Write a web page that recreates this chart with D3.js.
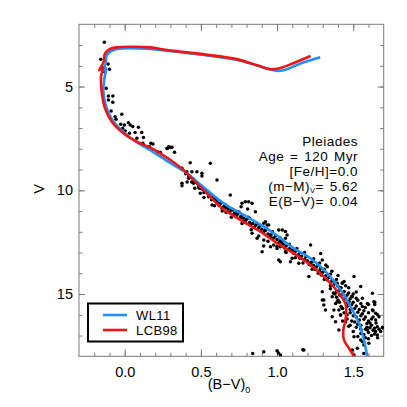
<!DOCTYPE html>
<html>
<head>
<meta charset="utf-8">
<script src="https://cdn.jsdelivr.net/npm/d3@7"></script>
<style>
  body { margin: 0; background: #fff; }
  svg { display: block; font-family: "Liberation Sans", Arial, sans-serif; }
  .axis path.domain { display: none; }
  .axis line { stroke: #7a7a7a; }
  .axis text { fill: #000; font-size: 14.5px; font-family: "Liberation Sans", Arial, sans-serif; }
</style>
</head>
<body>
<div id="chart"></div>
<script>
// Pleiades colour-magnitude diagram with two isochrones

// WL11 isochrone (blue)
const wlBV = [1.283, 1.159, 1.049, 0.994, 0.895, 0.741, 0.522, 0.277, 0.167, -0.009, -0.074, -0.118, -0.125, -0.146, -0.122, -0.133, -0.14, -0.118, -0.074, 0.014, 0.101, 0.18, 0.25, 0.32, 0.408, 0.47, 0.54, 0.65, 0.781, 0.913, 1.011, 1.11, 1.22, 1.33, 1.417, 1.483, 1.538, 1.57, 1.593];
const wlV  = [3.59, 3.88, 4.2, 4.24, 4.04, 3.72, 3.48, 3.27, 3.19, 3.16, 3.24, 3.48, 3.9, 4.28, 4.12, 4.6, 5.25, 6.05, 6.69, 7.34, 7.78, 8.12, 8.45, 8.78, 9.18, 9.55, 9.99, 10.63, 11.19, 11.75, 12.24, 12.8, 13.28, 14.0, 14.8, 15.61, 16.41, 17.21, 18.05];

// LCB98 isochrone (red)
const lcbBV = [1.22, 1.114, 1.016, 0.961, 0.873, 0.741, 0.522, 0.277, 0.167, 0.036, -0.052, -0.096, -0.129, -0.14, -0.168, -0.142, -0.155, -0.151, -0.129, -0.085, -0.009, 0.08, 0.178, 0.233, 0.30, 0.386, 0.452, 0.54, 0.628, 0.759, 0.891, 1.0, 1.11, 1.22, 1.33, 1.406, 1.45, 1.45, 1.435, 1.439, 1.472, 1.505];
const lcbV  = [3.53, 3.85, 4.12, 4.17, 3.99, 3.69, 3.45, 3.24, 3.11, 3.08, 3.11, 3.19, 3.4, 3.85, 4.22, 4.08, 4.5, 5.25, 6.05, 6.69, 7.25, 7.66, 7.98, 8.22, 8.54, 9.02, 9.5, 10.14, 10.79, 11.43, 11.99, 12.55, 13.04, 13.6, 14.32, 14.96, 15.5, 16.2, 16.73, 17.21, 17.61, 18.02];

// member stars [B-V, V]
const stars = [
  [-0.134,2.87],[-0.157,3.69],[-0.109,3.91],[-0.1,4.17],[-0.136,4.28],[-0.122,5.08],[-0.107,5.46],[-0.078,5.46],
  [-0.107,5.65],[-0.078,5.76],[-0.089,6.18],[-0.063,6.45],[-0.019,6.34],[-0.057,6.58],[-0.026,6.82],[-0.002,6.85],
  [0.024,6.74],[0.036,6.85],[0.053,6.93],[0.09,6.96],[-0.013,7.01],[0.003,7.14],[0.031,7.25],[0.068,7.22],
  [0.112,7.22],[0.123,7.45],[0.08,7.49],[0.119,7.73],[0.172,7.73],[0.163,7.9],[0.215,8.14],[0.233,8.17],
  [0.281,7.98],[0.299,7.93],[0.327,8.17],[0.185,7.77],[0.288,7.9],[0.31,7.93],[0.277,7.98],[0.43,8.67],
  [0.562,8.7],[0.376,8.94],[0.408,9.1],[0.441,9.1],[0.474,9.1],[0.507,9.18],[0.507,9.31],[0.376,9.66],
  [0.376,9.78],[0.419,9.42],[0.452,9.66],[0.485,9.83],[0.518,9.99],[0.606,9.5],[0.496,10.14],[0.551,10.31],
  [0.584,10.39],[0.573,10.71],[0.617,10.71],[0.639,10.87],[0.693,10.23],[0.672,11.03],[0.715,11.19],[0.737,11.03],
  [0.77,10.63],[0.792,10.55],[0.814,10.55],[0.836,10.63],[0.858,11.03],[0.759,11.35],[0.781,11.51],[0.825,11.67],
  [0.836,12.07],[0.869,12.31],[0.924,11.51],[0.945,11.67],[0.924,11.91],[0.957,12.15],[0.968,12.31],[0.912,12.68],
  [0.978,12.64],[1.0,12.8],[1.011,13.36],[0.764,10.79],[0.807,10.9],[0.665,11.06],
  [0.913,11.59],[0.935,11.67],[1.011,11.91],[1.034,11.91],[1.055,11.99],[1.066,12.15],[1.055,12.31],[0.913,12.4],
  [0.902,12.96],[0.957,12.72],[1.022,12.72],[1.055,12.96],[1.022,13.44],[1.088,13.44],[1.099,13.28],[1.22,12.64],
  [1.286,13.04],[1.297,13.36],[1.22,13.6],[1.143,13.52],[1.209,14.16],[1.286,13.76],[1.33,13.68],[1.362,14.32],
  [1.395,14.48],[1.428,14.48],[1.297,15.29],[1.307,15.53],[1.362,15.13],[1.384,15.45],[1.373,15.77],[1.428,15.69],
  [1.362,16.09],[1.417,16.01],[1.472,15.37],[1.494,15.13],[1.549,14.64],[1.593,15.45],[1.626,15.77],[1.647,16.25],
  [1.669,16.09],[1.647,16.81],[1.658,16.97],[1.593,16.73],[1.549,17.21],[1.57,17.46],[1.505,17.06],[1.527,17.61],
  [1.494,17.7],[1.022,17.94],[1.176,17.7],[0.913,17.78],[1.691,16.6],[0.84,17.86],[1.0,17.73],[1.009,17.84],
  [1.169,17.68],[1.695,16.64],[1.641,15.4],[1.641,15.5],
  [1.297,14.89],[1.307,15.29],[1.318,15.77],[1.395,15.37],[1.406,15.77],[1.417,16.01],[1.384,16.33],[1.406,16.73],
  [1.505,14.16],[1.626,14.96],[1.636,15.37],[1.647,15.93],[1.658,16.57],[1.68,16.81],[1.603,17.37],[1.57,17.86],
  [1.505,17.94],
  [0.40,9.2],[0.42,9.3],[0.43,9.38],[0.45,9.45],[0.46,9.55],[0.47,9.62],[0.48,9.7],[0.5,9.78],[0.49,9.9],[0.51,9.95],
  [0.53,10.02],[0.52,10.1],[0.55,10.2],[0.56,10.28],[0.58,10.35],[0.57,10.45],[0.6,10.5],[0.61,10.6],[0.63,10.62],
  [0.62,10.72],[0.65,10.78],[0.66,10.85],[0.68,10.9],[0.7,10.95],[0.69,11.05],[0.72,11.1],[0.74,11.15],[0.73,11.25],
  [0.76,11.28],[0.78,11.35],[0.8,11.4],[0.79,11.5],[0.82,11.55],[0.84,11.6],[0.86,11.68],[0.85,11.78],[0.88,11.8],
  [0.9,11.88],[0.92,11.95],[0.91,12.05],[0.94,12.1],[0.96,12.15],[0.95,12.25],[0.98,12.3],[1.0,12.38],[1.02,12.45],
  [1.01,12.55],[1.04,12.6],[1.06,12.68],[1.05,12.78],[1.08,12.82],[1.1,12.9],[1.12,12.95],[1.11,13.05],[1.14,13.1],
  [1.16,13.18],[1.15,13.28],[1.18,13.32],[1.2,13.4],[1.22,13.48],[1.21,13.58],[1.24,13.62],[1.26,13.7],[1.25,13.82],
  [1.28,13.88],[1.3,13.95],[1.29,14.08],[1.32,14.12],[1.34,14.2],[1.33,14.32],[1.36,14.38],[1.38,14.45],[1.37,14.58],
  [1.4,14.62],[1.42,14.7],[1.41,14.82],[1.44,14.88],[1.43,15.0],[1.46,15.05],[1.45,15.18],[1.48,15.22],[1.47,15.35],
  [1.5,15.4],[1.49,15.52],[1.52,15.58],[1.51,15.7],[1.54,15.75],[1.53,15.88],[1.56,15.95],[1.55,16.05],[1.58,16.1],
  [1.57,16.22],[1.6,16.3],[1.59,16.42],[1.62,16.5],[1.61,16.62],[1.63,16.75],[1.6,16.85],[1.64,16.92],
  [1.38,15.0],[1.4,15.3],[1.42,15.6],[1.44,15.9],[1.46,16.2],[1.48,16.5],[1.5,16.8],[1.52,16.1],[1.55,16.5],
  [1.58,16.7],[1.62,16.2],[1.6,15.9],[1.56,15.6],[1.53,15.3],[1.5,15.0],[1.47,14.7],[1.44,14.4],[1.4,14.1],
  [1.36,13.9],[1.32,13.6],[1.28,13.5],[1.24,13.3],[1.18,13.0],[1.13,12.8],[1.08,12.6],[1.02,12.3],[0.97,12.0],
  [0.93,11.85],[0.87,11.6],[0.82,11.35],[0.77,11.2],[0.71,10.95],[0.66,10.7],[0.6,10.4],[0.55,10.1],[0.5,9.9],[0.44,9.6],
  [1.35,14.6],[1.31,14.3],[1.27,14.0],[1.23,13.8],[1.17,13.5],[1.12,13.25],[1.06,13.0],[1.0,12.7],[0.94,12.45],
  [0.88,12.2],[0.83,11.9],[0.77,11.6],[0.7,11.3],[0.64,11.0],[0.59,10.75],[0.52,10.35],[0.46,9.9],[0.41,9.6],
  [1.52,14.9],[1.56,15.2],[1.6,15.5],[1.63,15.8],[1.66,16.0],[1.65,16.4],[1.67,16.7],[1.62,17.0],[1.58,17.1],
  [1.55,16.9],[1.52,16.6],[1.49,16.3],[1.46,16.0],[1.43,15.7],[1.41,15.4],[1.39,14.9],[1.46,15.45],[1.54,16.25],
  [1.57,15.8],[1.48,15.9],
  [1.35,14.75],[1.37,14.95],[1.39,15.15],[1.41,15.05],[1.44,15.25],[1.46,15.6],[1.48,15.75],[1.5,16.05],[1.51,16.35],
  [1.53,16.45],[1.55,16.7],[1.57,16.95],[1.59,16.6],[1.61,16.4],[1.63,16.1],[1.58,15.65],[1.55,15.45],[1.52,15.2],
  [1.49,15.1],[1.47,14.95],[1.45,14.6],[1.43,14.45],[1.39,14.3],[1.35,14.05],[1.31,13.8],[1.27,13.6],[1.23,13.45],
  [1.19,13.2],[1.15,13.0],[1.09,12.75],[1.03,12.5],[0.99,12.2],[0.89,11.7],[0.81,11.3],[0.75,11.05],[0.67,10.8],
  [1.6,17.15],[1.64,16.65],[1.66,17.1],[1.53,17.05],[1.47,16.55],[1.45,16.35],[1.43,16.3],[1.56,17.3]
];

const xMajor = [0.0, 0.5, 1.0, 1.5];
const yMajor = [5, 10, 15];
const infoLines = ['Pleiades', 'Age = 120 Myr', '[Fe/H]=0.0', null, 'E(B\u2212V)= 0.04'];

const W = 407, H = 407;
const plot = { left: 79, right: 383.7, top: 24.3, bottom: 356.3 };

const svg = d3.select('#chart').append('svg')
    .attr('width', W).attr('height', H);

const x = d3.scaleLinear().domain([-0.3, 1.7]).range([plot.left, plot.right]);
const y = d3.scaleLinear().domain([2, 18]).range([plot.top, plot.bottom]);

svg.append('defs').append('clipPath').attr('id', 'clip')
  .append('rect')
    .attr('x', plot.left).attr('y', plot.top)
    .attr('width', plot.right - plot.left).attr('height', plot.bottom - plot.top);

// minor ticks
const xMinor = d3.range(-0.2, 1.7, 0.1).map(v => +v.toFixed(1));
const yMinor = d3.range(3, 18, 1);

svg.append('g').attr('class', 'axis').attr('transform', `translate(0,${plot.bottom})`)
    .call(d3.axisBottom(x).tickValues(xMinor).tickSize(-3.5).tickFormat(''));
svg.append('g').attr('class', 'axis').attr('transform', `translate(0,${plot.top})`)
    .call(d3.axisTop(x).tickValues(xMinor).tickSize(-3.5).tickFormat(''));
svg.append('g').attr('class', 'axis').attr('transform', `translate(${plot.left},0)`)
    .call(d3.axisLeft(y).tickValues(yMinor).tickSize(-3.5).tickFormat(''));
svg.append('g').attr('class', 'axis').attr('transform', `translate(${plot.right},0)`)
    .call(d3.axisRight(y).tickValues(yMinor).tickSize(-3.5).tickFormat(''));

// major ticks + labels
svg.append('g').attr('class', 'axis').attr('transform', `translate(0,${plot.bottom})`)
    .call(d3.axisBottom(x).tickValues(xMajor).tickSize(-7).tickPadding(10).tickFormat(d3.format('.1f')));
svg.append('g').attr('class', 'axis').attr('transform', `translate(0,${plot.top})`)
    .call(d3.axisTop(x).tickValues(xMajor).tickSize(-7).tickFormat(''));
svg.append('g').attr('class', 'axis').attr('transform', `translate(${plot.left},0)`)
    .call(d3.axisLeft(y).tickValues(yMajor).tickSize(-6).tickPadding(6).tickFormat(d3.format('d')));
svg.append('g').attr('class', 'axis').attr('transform', `translate(${plot.right},0)`)
    .call(d3.axisRight(y).tickValues(yMajor).tickSize(-6).tickFormat(''));

// frame
svg.append('rect')
    .attr('x', plot.left).attr('y', plot.top)
    .attr('width', plot.right - plot.left).attr('height', plot.bottom - plot.top)
    .attr('fill', 'none').attr('stroke', '#7a7a7a').attr('stroke-width', 1);

const body = svg.append('g').attr('clip-path', 'url(#clip)');

body.selectAll('circle.star')
  .data(stars)
  .enter().append('circle')
    .attr('class', 'star')
    .attr('cx', d => x(d[0]))
    .attr('cy', d => y(d[1]))
    .attr('r', 1.75)
    .attr('fill', '#000');

const line = d3.line()
    .x(d => x(d[0]))
    .y(d => y(d[1]))
    .curve(d3.curveCatmullRom.alpha(0.5));

body.append('path')
    .datum(d3.zip(wlBV, wlV))
    .attr('fill', 'none')
    .attr('stroke', '#1e90ff')
    .attr('stroke-width', 2.6)
    .attr('stroke-linejoin', 'round')
    .attr('d', line);

body.append('path')
    .datum(d3.zip(lcbBV, lcbV))
    .attr('fill', 'none')
    .attr('stroke', '#f01414')
    .attr('stroke-width', 2.6)
    .attr('stroke-linejoin', 'round')
    .attr('d', line);

// axis titles
svg.append('text')
    .attr('transform', 'translate(44,189) rotate(-90)')
    .attr('text-anchor', 'middle')
    .attr('font-size', 14.5)
    .text('V');

const xt = svg.append('text')
    .attr('x', 229).attr('y', 389)
    .attr('text-anchor', 'middle')
    .attr('font-size', 14.5);
xt.append('tspan').text('(B\u2212V)');
xt.append('tspan').attr('font-size', 9).attr('dy', 4).text('0');

// cluster parameters
const info = svg.append('g')
    .attr('font-size', 13.5)
    .attr('letter-spacing', 0.5)
    .attr('word-spacing', 1.5)
    .attr('text-anchor', 'end');
infoLines.forEach((s, i) => {
  const t = info.append('text').attr('x', 358).attr('y', 146 + i * 15);
  if (s !== null) {
    t.text(s);
  } else {
    t.append('tspan').text('(m\u2212M)');
    t.append('tspan').attr('font-size', 7.5).attr('dy', 2).text('V');
    t.append('tspan').attr('dy', -2).text('= 5.62');
  }
});

// legend
const legendItems = [
  { name: 'WL11', color: '#1e90ff' },
  { name: 'LCB98', color: '#f01414' }
];
const lg = svg.append('g');
lg.append('rect')
    .attr('x', 88).attr('y', 303.5)
    .attr('width', 95).attr('height', 38)
    .attr('fill', '#fff').attr('stroke', '#000').attr('stroke-width', 2);
legendItems.forEach((d, i) => {
  const yy = 315 + i * 15;
  lg.append('line')
      .attr('x1', 103).attr('x2', 127)
      .attr('y1', yy).attr('y2', yy)
      .attr('stroke', d.color).attr('stroke-width', 2.6);
  lg.append('text')
      .attr('x', 136).attr('y', yy + 5)
      .attr('font-size', 13)
      .attr('letter-spacing', 0.4)
      .text(d.name);
});
</script>
</body>
</html>
